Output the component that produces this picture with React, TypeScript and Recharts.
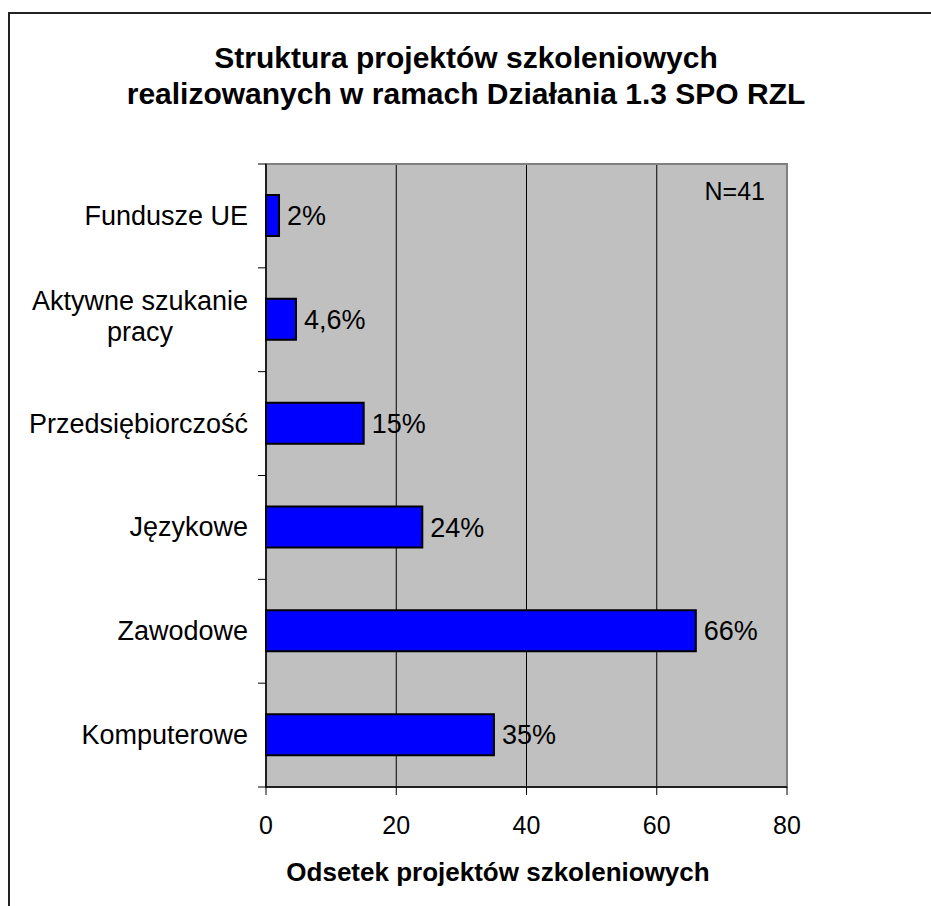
import React from 'react';
import { BarChart, Bar, XAxis, YAxis, CartesianGrid, LabelList, ReferenceArea } from 'recharts';

const categories = ['Fundusze UE', 'Aktywne szukanie pracy', 'Przedsiębiorczość', 'Językowe', 'Zawodowe', 'Komputerowe'];
const categoryLines = [['Fundusze UE'], ['Aktywne szukanie', 'pracy'], ['Przedsiębiorczość'], ['Językowe'], ['Zawodowe'], ['Komputerowe']];
const values = [2, 4.6, 15, 24, 66, 35];
const valueLabels = ['2%', '4,6%', '15%', '24%', '66%', '35%'];
const xTicks = [0, 20, 40, 60, 80];
const titleLines = ['Struktura projektów szkoleniowych', 'realizowanych w ramach Działania 1.3 SPO RZL'];
const axisTitle = 'Odsetek projektów szkoleniowych';
const noteText = 'N=41';

const data = categories.map((c, i) => ({ name: c, value: values[i], label: valueLabels[i], lines: categoryLines[i] }));

const W = 931;
const H = 906;
const PLOT_TOP = 164;
const PLOT_RIGHT = 787;
const PLOT_BOTTOM = 787;
const BAND = (PLOT_BOTTOM - PLOT_TOP) / categories.length;
const FONT = "'Liberation Sans', Arial, sans-serif";
const LABEL_SIZE = 27;
const VALUE_SIZE = 27;

let ctx: CanvasRenderingContext2D | null = null;
function measure(text: string, size: number) {
  if (typeof document === 'undefined') return text.length * size * 0.5;
  if (!ctx) ctx = document.createElement('canvas').getContext('2d');
  if (!ctx) return text.length * size * 0.5;
  ctx.font = `${size}px ${FONT}`;
  return ctx.measureText(text).width;
}

const CategoryTick = (props: any) => {
  const { x, y, payload, index } = props;
  const item = data.find((d) => d.name === payload.value);
  const lines = item ? item.lines : [String(payload.value)];
  const right = x - 18;
  const isLast = index === categories.length - 1;
  const top = y - BAND / 2;
  const bottom = y + BAND / 2;
  let texts;
  if (lines.length === 1) {
    texts = (
      <text x={right} y={y + 9} textAnchor="end" fontSize={LABEL_SIZE} fill="#000" fontFamily={FONT}>
        {lines[0]}
      </text>
    );
  } else {
    const maxW = Math.max(...lines.map((l) => measure(l, LABEL_SIZE)));
    const cx = right - maxW / 2;
    texts = lines.map((l, i) => (
      <text key={i} x={cx} y={y - 10 + i * 31} textAnchor="middle" fontSize={LABEL_SIZE} fill="#000" fontFamily={FONT}>
        {l}
      </text>
    ));
  }
  return (
    <g>
      <line x1={x - 8} x2={x} y1={top} y2={top} stroke="#000" strokeWidth={1} />
      {isLast && <line x1={x - 8} x2={x} y1={bottom} y2={bottom} stroke="#000" strokeWidth={1} />}
      {texts}
    </g>
  );
};

export default function App() {
  return (
    <div style={{ position: 'absolute', left: 0, top: 0, width: W, height: H, background: '#fff', fontFamily: FONT, overflow: 'hidden' }}>
      <div
        style={{
          position: 'absolute',
          left: 8,
          top: 12,
          width: W - 8,
          height: H - 12,
          borderLeft: '2px solid #222',
          borderTop: '2px solid #222',
          boxSizing: 'border-box',
        }}
      />
      <div style={{ position: 'absolute', left: 0, top: 0 }}>
        <BarChart
          width={W}
          height={H}
          data={data}
          layout="vertical"
          margin={{ top: PLOT_TOP, right: W - PLOT_RIGHT, bottom: H - PLOT_BOTTOM - 60, left: 8 }}
          barSize={41}
        >
          <CartesianGrid fill="#C0C0C0" horizontal={false} stroke="#000" strokeWidth={1} />
          <ReferenceArea x1={0} x2={80} fill="none" stroke="#808080" strokeWidth={2} ifOverflow="visible" />
          <XAxis
            type="number"
            domain={[0, 80]}
            ticks={xTicks}
            height={60}
            axisLine={{ stroke: '#000', strokeWidth: 1.5 }}
            tickLine={{ stroke: '#000' }}
            tickSize={8}
            tickMargin={21}
            tick={{ fontSize: 25, fill: '#000', fontFamily: FONT }}
            allowDecimals={false}
          />
          <YAxis
            type="category"
            dataKey="name"
            width={258}
            axisLine={{ stroke: '#000', strokeWidth: 1.5 }}
            tickLine={false}
            tickSize={0}
            tickMargin={0}
            tick={<CategoryTick />}
            interval={0}
          />
          <Bar dataKey="value" fill="#0000FF" stroke="#000" strokeWidth={2} isAnimationActive={false}>
            <LabelList dataKey="label" position="right" offset={8} fill="#000" fontSize={VALUE_SIZE} fontFamily={FONT} />
          </Bar>
        </BarChart>
      </div>
      <svg width={W} height={H} style={{ position: 'absolute', left: 0, top: 0, pointerEvents: 'none' }}>
        <text x={466} y={68} textAnchor="middle" fontSize={30} fontWeight="bold" fill="#000" fontFamily={FONT}>
          {titleLines[0]}
        </text>
        <text x={466} y={104} textAnchor="middle" fontSize={30} fontWeight="bold" fill="#000" fontFamily={FONT}>
          {titleLines[1]}
        </text>
        <text x={498} y={881} textAnchor="middle" fontSize={26} fontWeight="bold" fill="#000" fontFamily={FONT}>
          {axisTitle}
        </text>
        <text x={765} y={200} textAnchor="end" fontSize={25} fill="#000" fontFamily={FONT}>
          {noteText}
        </text>
      </svg>
    </div>
  );
}
